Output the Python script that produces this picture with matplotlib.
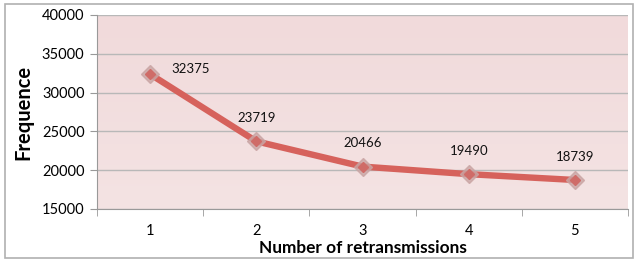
import numpy as np
import matplotlib
matplotlib.use("Agg")
import matplotlib.pyplot as plt
from matplotlib.patches import Rectangle

retransmissions = [1, 2, 3, 4, 5]
frequence = [32375, 23719, 20466, 19490, 18739]
yticks = [15000, 20000, 25000, 30000, 35000, 40000]

plt.rcParams['font.family'] = ['Lato', 'DejaVu Sans']

fig = plt.figure(figsize=(6.39, 2.63), dpi=100)
fig.patches.append(Rectangle((5/639, 5/263), 628/639, 254/263, transform=fig.transFigure,
                             fill=False, edgecolor='#b0b0b0', linewidth=1.2))

ax = fig.add_axes([97/639, 54/263, 531/639, 194/263])

# soft pink gradient background
grad = np.linspace(0, 1, 100).reshape(-1, 1)
ax.imshow(grad, extent=[0, 1, 0, 1], transform=ax.transAxes, aspect='auto',
          cmap=matplotlib.colors.LinearSegmentedColormap.from_list('bg', ['#f4e3e3', '#f1dadb']),
          origin='lower', zorder=0)

ax.set_xlim(0.5, 5.5)
ax.set_ylim(15000, 40000)
ax.set_yticks(yticks)
ax.yaxis.grid(True, color='#b8b8b8', linewidth=1)
ax.set_axisbelow(True)

ax.plot(retransmissions, frequence, color='#d6625c', lw=4.6, zorder=3,
        solid_capstyle='round')
ax.plot(retransmissions, frequence, linestyle='none', marker='D', ms=9,
        color='#c9a4a3', alpha=0.8, zorder=4)
ax.plot(retransmissions, frequence, linestyle='none', marker='D', ms=5,
        color='#cf6c68', zorder=5)

offsets = [(29.5, 3.6), (0, 17), (0, 17), (0, 16.5), (0, 16.5)]
for x, y, (dx, dy) in zip(retransmissions, frequence, offsets):
    ax.annotate(str(y), (x, y), xytext=(dx, dy), textcoords='offset points',
                ha='center', va='center', fontsize=9.5, color='#111111')

ax.set_xticks(retransmissions)
ax.set_xticks([0.5, 1.5, 2.5, 3.5, 4.5, 5.5], minor=True)
ax.tick_params(axis='x', which='major', length=0, pad=11, labelsize=10.5)
ax.tick_params(axis='x', which='minor', length=5, color='#999999')
ax.tick_params(axis='y', length=5, color='#999999', labelsize=10.5, pad=4)

for side in ['top', 'right']:
    ax.spines[side].set_visible(False)
ax.spines['left'].set_color('#999999')
ax.spines['bottom'].set_color('#999999')

ax.set_xlabel('Number of retransmissions', fontsize=12.4, fontweight='bold', labelpad=1)
ax.set_ylabel('Frequence', fontsize=14.5, fontweight='bold', labelpad=6)

fig.savefig('out.png', dpi=100)
